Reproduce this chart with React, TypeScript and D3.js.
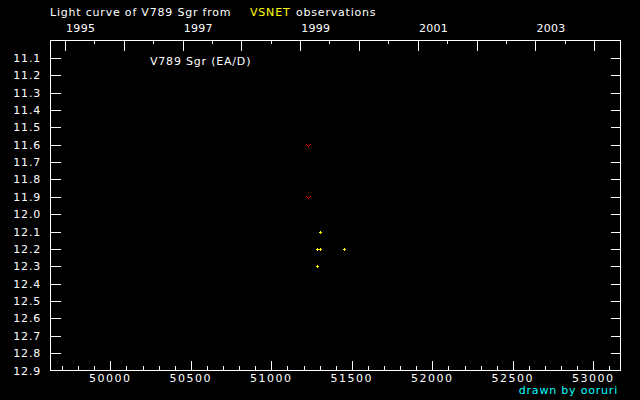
import React from "react";
import * as d3 from "d3";

// Data (JD - 2400000, magnitude)
const obsJD = [51304, 51286, 51302, 51453, 51286];
const obsMag = [12.1, 12.2, 12.2, 12.2, 12.3];
const fainterJD = [51230, 51230];
const fainterMag = [11.6, 11.9];

const jdTicksMajor = [50000, 50500, 51000, 51500, 52000, 52500, 53000];
const jdTicksMinor = d3.range(49700, 53200, 100);
const yearLabels = [1995, 1997, 1999, 2001, 2003];
const yearMajor = [1995, 1996, 1997, 1998, 1999, 2000, 2001, 2002, 2003, 2004];
const magTicks = d3.range(11.1, 12.85, 0.1).map((v) => +v.toFixed(1));
const magLabels = d3.range(11.1, 12.95, 0.1).map((v) => +v.toFixed(1));

const W = 640;
const H = 400;
const L = 50.5, R = 620.5, T = 40.5, B = 370.5;

const x = d3.scaleLinear().domain([49625, 53166]).range([50, 620]);
const y = d3.scaleLinear().domain([11.0, 12.9]).range([40.5, 370.5]);

const yearToJD = (yr: number, month = 0) =>
  Date.UTC(yr, month, 1) / 86400000 + 40587.5;

const FONT = "'DejaVu Sans', sans-serif";

export default function App() {
  const px = (v: number) => Math.round(x(v)) + 0.5;
  const py = (v: number) => Math.round(y(v)) + 0.5;
  return (
    <svg
      width={W}
      height={H}
      style={{ position: "absolute", left: 0, top: 0, background: "#000" }}
    >
      <rect x={0} y={0} width={W} height={H} fill="#000" />
      <g stroke="#fff" strokeWidth={1} shapeRendering="crispEdges" fill="none">
        <path d={`M${L},${T}H${R}V${B}H${L}Z`} />
        {/* bottom JD ticks */}
        {jdTicksMinor
          .filter((v) => !jdTicksMajor.includes(v))
          .map((v) => (
            <line key={"bm" + v} x1={px(v)} x2={px(v)} y1={B} y2={B - 5} />
          ))}
        {jdTicksMajor.map((v) => (
          <line key={"bM" + v} x1={px(v)} x2={px(v)} y1={B} y2={B - 10} />
        ))}
        {/* top year ticks */}
        {yearMajor.map((yr) => (
          <line key={"tM" + yr} x1={px(yearToJD(yr))} x2={px(yearToJD(yr))} y1={T} y2={T + 10} />
        ))}
        {yearMajor.slice(0, -1).map((yr) => (
          <line key={"tm" + yr} x1={px(yearToJD(yr, 6))} x2={px(yearToJD(yr, 6))} y1={T} y2={T + 3} />
        ))}
        {/* magnitude ticks */}
        {magTicks.map((m) => (
          <g key={"m" + m}>
            <line x1={L} x2={L + 10} y1={py(m)} y2={py(m)} />
            <line x1={R} x2={R - 10} y1={py(m)} y2={py(m)} />
          </g>
        ))}
      </g>
      <g fill="#fff" fontFamily={FONT} fontSize={11} letterSpacing={0.8}>
        <text x={50} y={16}>Light curve of V789 Sgr from</text>
        <text x={250} y={16} fill="#ffff00">VSNET</text>
        <text x={296} y={16}>observations</text>
        <text x={150} y={65}>V789 Sgr (EA/D)</text>
        {yearLabels.map((yr) => (
          <text key={"yl" + yr} x={x(yearToJD(yr)) + 1} y={32} letterSpacing={0.3}>
            {yr}
          </text>
        ))}
        {jdTicksMajor.map((v) => (
          <text key={"jl" + v} x={x(v)} y={382} textAnchor="middle" letterSpacing={1.5}>
            {v}
          </text>
        ))}
        {magLabels.map((m) => (
          <text key={"ml" + m} x={41} y={y(m) + 4} textAnchor="end">
            {m.toFixed(1)}
          </text>
        ))}
        <text x={618} y={394} textAnchor="end" fill="#00ffff">drawn by ooruri</text>
      </g>
      <g stroke="#ff0000" strokeWidth={1} fill="none">
        {fainterJD.map((jd, i) => {
          const cx = Math.round(x(jd)) + 0.5;
          const cy = Math.round(y(fainterMag[i])) + 0.5;
          return (
            <path key={"f" + i} d={`M${cx - 2.5},${cy - 1.5}L${cx},${cy + 1}L${cx + 2.5},${cy - 1.5}`} />
          );
        })}
      </g>
      <g fill="#ffff00" shapeRendering="crispEdges">
        {obsJD.map((jd, i) => {
          const cx = Math.round(x(jd));
          const cy = Math.round(y(obsMag[i]));
          return (
            <g key={"o" + i}>
              <rect x={cx - 1} y={cy} width={3} height={1} />
              <rect x={cx} y={cy - 1} width={1} height={3} />
            </g>
          );
        })}
      </g>
    </svg>
  );
}
